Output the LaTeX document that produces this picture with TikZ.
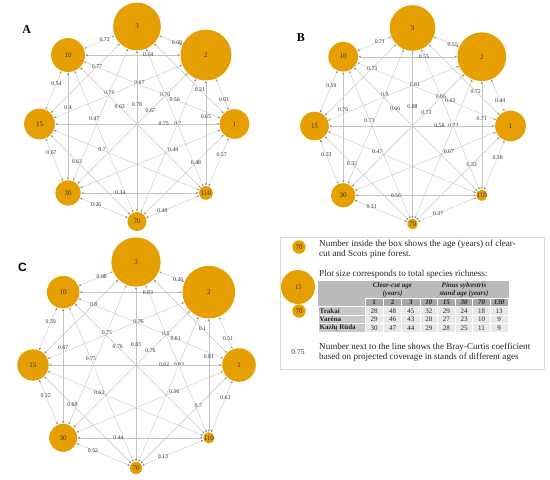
\documentclass[tikz,border=0pt]{standalone}
\usepackage{fontspec}
\setmainfont{Liberation Serif}
\setsansfont{Liberation Sans}
\usetikzlibrary{calc,arrows.meta}

\definecolor{plotorange}{RGB}{230,159,0}
\definecolor{linkgray}{RGB}{196,196,196}
\definecolor{headgray}{RGB}{186,186,186}
\definecolor{namegray}{RGB}{200,200,200}
\definecolor{cellgray}{RGB}{232,232,232}

\newcommand{\edgelist}{3/2/0.58,2/1/0.64,1/110/0.45,110/70/0.63,70/30/0.59,30/15/0.58,15/10/0.59,10/3/0.53,%
  3/1/0.645,2/110/0.445,1/70/0.395,110/30/0.62,70/15/0.617,30/10/0.618,15/3/0.59,10/2/0.582,%
  3/110/0.41,2/70/0.41,1/30/0.368,110/15/0.624,70/10/0.62,30/3/0.6,15/2/0.6,10/1/0.64,%
  3/70/0.403,2/30/0.4,1/15/0.363,110/10/0.625}

% nodes of one panel: prefix, centre, radius, size factor, name/angle/richness
\newcommand{\plotnodes}[5]{%
  \foreach \na/\ang/\sz in {#5}
    \node[plot, minimum size={#4*\sz*1pt}] (#1\na) at ($(#2)+(\ang:#3)$) {\na};}

% links of one panel: prefix, coefficients in the order of \edgelist
\newcommand{\plotlinks}[2]{%
  \foreach \fr/\to/\ps [count=\i from 0] in \edgelist {
    \pgfmathsetmacro{\cf}{{#2}[\i]}
    \draw[link] (#1\fr) -- (#1\to);
    \path (#1\fr.center) -- (#1\to.center) node[coef, pos=\ps] {\cf};}}

\begin{document}
\begin{tikzpicture}[x=1pt,y=-1pt,
  plot/.style={circle,fill=plotorange,inner sep=0pt,text=black!80,font=\fontsize{7}{8}\selectfont},
  link/.style={draw=linkgray,line width=0.4pt,
    arrows={Latex[length=2.4pt,width=2pt,color=black!45]-Latex[length=2.4pt,width=2pt,color=black!45]}},
  coef/.style={inner sep=0.5pt,text=black!80,font=\fontsize{5.8}{6}\selectfont},
  panel/.style={font=\bfseries\fontsize{12}{12}\selectfont},
  note/.style={anchor=north west,inner sep=0pt,align=left,text=black!85,font=\fontsize{9.1}{10}\selectfont},
  cell/.style={draw=white,line width=0.7pt},
  tab/.style={inner sep=0pt,text=black!85,font=\fontsize{7}{8.5}\selectfont}]
\useasboundingbox (0,0) rectangle (550,480);

\coordinate (ca) at (137,124);
\coordinate (cb) at (412.5,126);
\coordinate (cc) at (136,365);

% panel A
\node[panel] (labA) at (26.7,29.5) {A};
\plotnodes{a}{ca}{97.5}{1.06}{3/-90/45,2/-45/48,1/0/28,110/45/13,70/90/18,30/135/24,15/180/29,10/225/32}
\plotlinks{a}{"0.68","0.01","0.57","0.49","0.26","0.67","0.54","0.72",
  "0.21","0.65","0.48","0.34","0.63","0.4","0.77","0.64",
  "0.76","0.7","0.44","0.7","0.47","0.76","0.67","0.56",
  "0.78","0.67","0.75","0.63"}

% panel B
\node[panel] (labB) at (301,37.8) {B};
\plotnodes{b}{cb}{98}{1.06}{3/-90/43,2/-45/46,1/0/29,110/45/9,70/90/10,30/135/23,15/180/27,10/225/28}
\plotlinks{b}{"0.55","0.44","0.38","0.37","0.31","0.33","0.59","0.71",
  "0.72","0.71","0.53","0.56","0.33","0.76","0.73","0.55",
  "0.86","0.73","0.67","0.47","0.73","0.9","0.61","0.63",
  "0.88","0.73","0.58","0.66"}

% panel C
\node[panel, font=\sffamily\bfseries\fontsize{12}{12}\selectfont] (labC) at (22.5,267) {C};
\plotnodes{c}{cc}{103}{1.12}{3/-90/44,2/-45/47,1/0/30,110/45/9,70/90/11,30/135/25,15/180/28,10/225/29}
\plotlinks{c}{"0.26","0.51","0.63","0.13","0.52","0.32","0.59","0.88",
  "0.1","0.81","0.7","0.44","0.68","0.67","0.8","0.83",
  "0.8","0.83","0.56","0.63","0.75","0.75","0.76","0.81",
  "0.83","0.76","0.62","0.76"}

% legend
\draw[black!15, line width=0.6pt] (280,237) rectangle (544,369);
\node[plot, minimum size=13.4pt] (key70) at (299,247) {70};
\node[note] (keyage) at (319,239.5) {Number inside the box shows the age (years) of clear-\\cut and Scots pine forest.};
\node[plot, minimum size=34pt] (key15) at (298,287) {15};
\node[plot, minimum size=13.4pt] (key70b) at (299,311) {70};
\node[note] (keysize) at (319,269.5) {Plot size corresponds to total species richness:};
\node[coef, font=\fontsize{7.5}{8}\selectfont] (key075) at (298,352) {0.75};
\node[note] (keycoef) at (319,343) {Number next to the line shows the Bray-Curtis coefficient\\based on projected coverage in stands of different ages};

% richness table
\fill[cell, headgray] (318,281) rectangle (365,306.5);
\fill[cell, headgray] (365,281) rectangle (420,298);
\fill[cell, headgray] (420,281) rectangle (508,298);
\node[tab, align=center] (hclear) at (392.5,289.8) {\textbf{\textit{Clear-cut age}}\\\textbf{\textit{(years)}}};
\node[tab, align=center] (hpinus) at (464,289.6) {\textbf{\textit{Pinus sylvestris}}\\\textbf{\textit{stand age (years)}}};
\foreach \ag [count=\c] in {1,2,3,10,15,30,70,130} {
  \pgfmathsetmacro{\xl}{\c<4 ? 365+18.333*(\c-1) : 420+17.6*(\c-4)}
  \pgfmathsetmacro{\cw}{\c<4 ? 18.333 : 17.6}
  \filldraw[cell, fill=headgray!90!black] (\xl,298) rectangle ++(\cw,8.5);
  \node[tab] (age\c) at (\xl+\cw/2,302.4) {\ifnum\c<4 \textbf{\ag}\else\textbf{\textit{\ag}}\fi};
}
\foreach \site/\vals [count=\r] in {Trakai/{28,48,45,32,29,24,18,13},
    Varėna/{29,46,43,28,27,23,10,9}, Kazlų Rūda/{30,47,44,29,28,25,11,9}} {
  \pgfmathsetmacro{\yt}{306.5+8.5*(\r-1)}
  \filldraw[cell, fill=namegray] (318,\yt) rectangle (365,\yt+8.5);
  \node[tab, anchor=west] (site\r) at (319.5,\yt+4.4) {\textbf{\site}};
  \foreach \v [count=\c] in \vals {
    \pgfmathsetmacro{\xl}{\c<4 ? 365+18.333*(\c-1) : 420+17.6*(\c-4)}
    \pgfmathsetmacro{\cw}{\c<4 ? 18.333 : 17.6}
    \filldraw[cell, fill=cellgray] (\xl,\yt) rectangle ++(\cw,8.5);
    \node[tab] (val\r-\c) at (\xl+\cw/2,\yt+4.4) {\v};
  }
}
\end{tikzpicture}
\end{document}
